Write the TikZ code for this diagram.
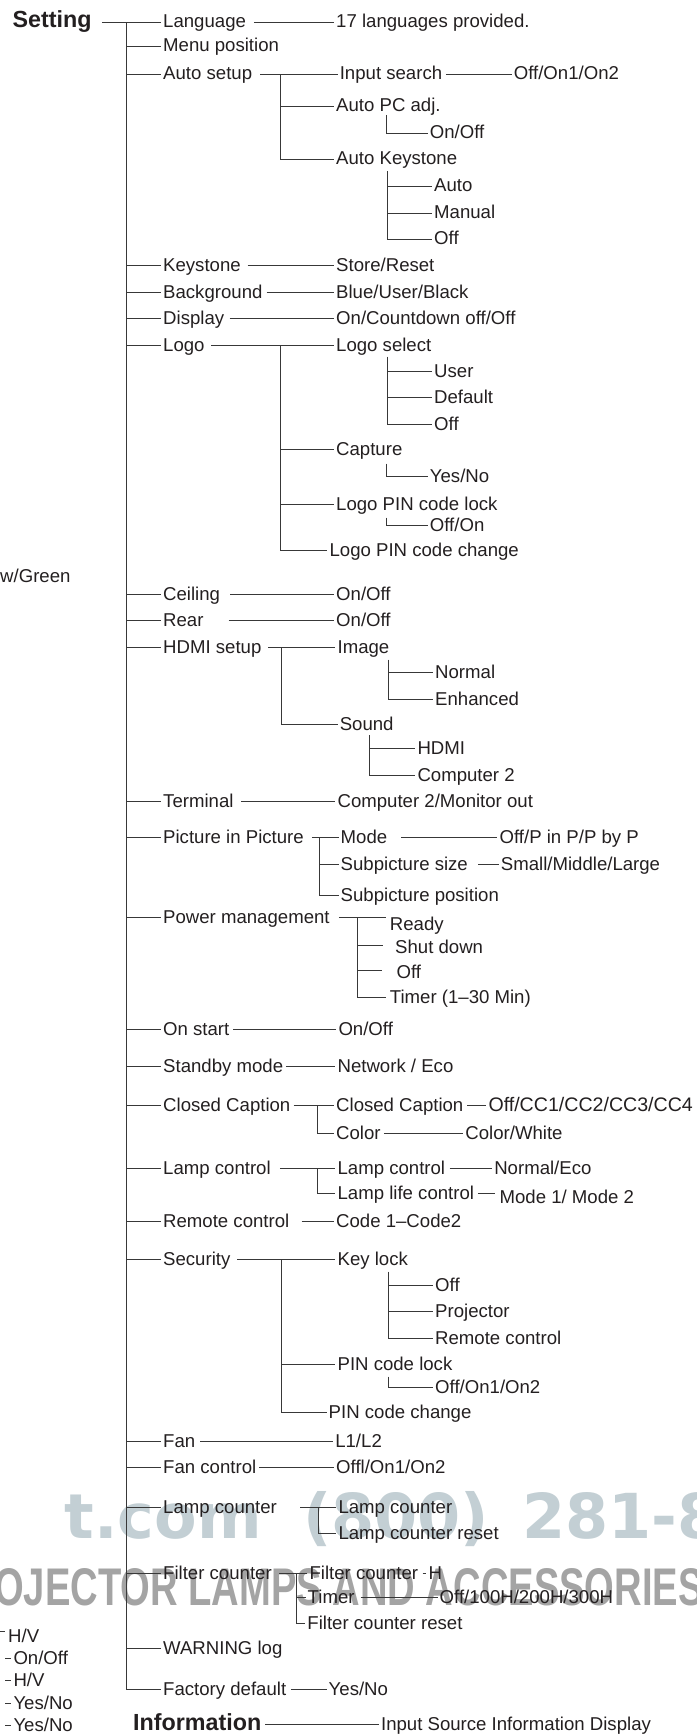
\documentclass[tikz,border=0pt]{standalone}
\usepackage{fontspec}
\setmainfont{Liberation Sans}
\newfontfamily\wmA{DejaVu Sans}
\newfontfamily\wmB[FakeStretch=0.72]{Liberation Sans}
\definecolor{ink}{HTML}{231F20}
\definecolor{linec}{HTML}{383838}
\definecolor{wma}{HTML}{C3CFD4}
\definecolor{wmb}{HTML}{A4A4A4}
\begin{document}
\begin{tikzpicture}[x=1pt,y=-1pt,
  t/.style={anchor=west,inner xsep=2pt,inner ysep=0pt,text height=11pt,text depth=0pt,
            font=\fontsize{18.6}{20}\selectfont,text=ink},
  b/.style={t,font=\fontsize{23.3}{24}\selectfont\bfseries},
  ln/.style={draw=linec,line width=1.15pt},
  wmt/.style={inner sep=0pt,anchor=base west}]
\useasboundingbox (0,0) rectangle (696,1736);
% watermark
\begin{scope}
\clip (0,0) rectangle (696,1736);
\node[wmt,anchor=base east,text=wma,font=\wmA\bfseries\fontsize{62}{62}\selectfont] (wm1) at (262,1538) {t.com};
\node[wmt,text=wma,font=\wmA\bfseries\fontsize{62}{62}\selectfont] (wm2) at (303,1538) {(800)};
\node[wmt,text=wma,font=\wmA\bfseries\fontsize{62}{62}\selectfont] (wm3) at (522,1538) {281-88};
\node[wmt,text=wmb,font=\wmB\bfseries\fontsize{53}{53}\selectfont] (wm4) at (-6,1605) {OJECTOR LAMPS AND ACCESSORIES};
\end{scope}
% level 1
\node[b] (set) at (10.4,22.5) {Setting};
\node[t] (lang) at (161,22.5) {Language};
\node[t] (menu) at (161,46.5) {Menu position};
\node[t] (autos) at (161,74.5) {Auto setup};
\node[t] (keys) at (161,265.5) {Keystone};
\node[t] (bg) at (161,292.5) {Background};
\node[t] (disp) at (161,318.5) {Display};
\node[t] (logo) at (161,345.5) {Logo};
\node[t] (ceil) at (161,594.5) {Ceiling};
\node[t] (rear) at (161,620.5) {Rear};
\node[t] (hdmi) at (161,647.5) {HDMI setup};
\node[t] (term) at (161,801.5) {Terminal};
\node[t] (pip) at (161,837.5) {Picture in Picture};
\node[t] (pm) at (161,917.5) {Power management};
\node[t] (onst) at (161,1029.5) {On start};
\node[t] (stby) at (161,1066.5) {Standby mode};
\node[t] (cc) at (161,1105.5) {Closed Caption};
\node[t] (lc) at (161,1168.5) {Lamp control};
\node[t] (rc) at (161,1221.5) {Remote control};
\node[t] (sec) at (161,1259.5) {Security};
\node[t] (fan) at (161,1441.5) {Fan};
\node[t] (fanc) at (161,1467.5) {Fan control};
\node[t] (lcnt) at (161,1507.5) {Lamp counter};
\node[t] (fcnt) at (161,1573.5) {Filter counter};
\node[t] (warn) at (161,1648.5) {WARNING log};
\node[t] (fd) at (161,1689.5) {Factory default};
\node[b] (info) at (131,1724.5) {Information};
% level 2 and 3
\node[t] (langv) at (334,22.5) {17 languages provided.};
\node[t] (inps) at (337.6,74.5) {Input search};
\node[t] (inpsv) at (511.6,74.5) {Off/On1/On2};
\node[t] (apc) at (334,106.5) {Auto PC adj.};
\node[t] (apcv) at (427.7,133.5) {On/Off};
\node[t] (aks) at (334,159.5) {Auto Keystone};
\node[t] (aka) at (432,186.5) {Auto};
\node[t] (akm) at (432,213.5) {Manual};
\node[t] (ako) at (432,239.5) {Off};
\node[t] (keysv) at (334,265.5) {Store/Reset};
\node[t] (bgv) at (334,292.5) {Blue/User/Black};
\node[t] (dispv) at (334,318.5) {On/Countdown off/Off};
\node[t] (lsel) at (334,345.5) {Logo select};
\node[t] (lsu) at (432,371.5) {User};
\node[t] (lsd) at (432,397.5) {Default};
\node[t] (lso) at (432,424.5) {Off};
\node[t] (cap) at (334,449.5) {Capture};
\node[t] (capv) at (427.7,476.5) {Yes/No};
\node[t] (lpl) at (334,504.5) {Logo PIN code lock};
\node[t] (lplv) at (427.7,525.5) {Off/On};
\node[t] (lpc) at (327.4,550.5) {Logo PIN code change};
\node[t] (ceilv) at (334,594.5) {On/Off};
\node[t] (rearv) at (334,620.5) {On/Off};
\node[t] (img) at (335.4,647.5) {Image};
\node[t] (imgn) at (433,672.5) {Normal};
\node[t] (imge) at (433,699.5) {Enhanced};
\node[t] (snd) at (337.6,724.5) {Sound};
\node[t] (sndh) at (415.3,748.5) {HDMI};
\node[t] (sndc) at (415.3,775.5) {Computer 2};
\node[t] (termv) at (335.4,801.5) {Computer 2/Monitor out};
\node[t] (mode) at (338.5,837.5) {Mode};
\node[t] (modev) at (497.4,837.5) {Off/P in P/P by P};
\node[t] (sps) at (338.5,864.5) {Subpicture size};
\node[t] (spsv) at (498.7,864.5) {Small/Middle/Large};
\node[t] (spp) at (338.5,895.5) {Subpicture position};
\node[t] (rdy) at (387.7,924.5) {Ready};
\node[t] (shd) at (393,948) {Shut down};
\node[t] (pmo) at (394.4,973) {Off};
\node[t] (tmr) at (387.7,997.5) {Timer (1–30 Min)};
\node[t] (onstv) at (336.3,1029.5) {On/Off};
\node[t] (stbyv) at (335.4,1066.5) {Network / Eco};
\node[t] (ccs) at (334,1105.5) {Closed Caption};
\node[t,font=\fontsize{19.6}{20}\selectfont] (ccsv) at (486.3,1105.5) {Off/CC1/CC2/CC3/CC4};
\node[t] (col) at (334,1133.5) {Color};
\node[t] (colv) at (463.2,1133.5) {Color/White};
\node[t] (lcs) at (335.4,1168.5) {Lamp control};
\node[t] (lcsv) at (492.1,1168.5) {Normal/Eco};
\node[t] (llc) at (335.4,1193.5) {Lamp life control};
\node[t] (llcv) at (497.4,1198) {Mode 1/ Mode 2};
\node[t] (rcv) at (334,1221.5) {Code 1–Code2};
\node[t] (kl) at (335.4,1259.5) {Key lock};
\node[t] (klo) at (433,1285.5) {Off};
\node[t] (klp) at (433,1311.5) {Projector};
\node[t] (klr) at (433,1338.5) {Remote control};
\node[t] (pcl) at (335.4,1364.5) {PIN code lock};
\node[t] (pclv) at (433,1387.5) {Off/On1/On2};
\node[t] (pcc) at (326.5,1412.5) {PIN code change};
\node[t] (fanv) at (333.1,1441.5) {L1/L2};
\node[t] (fancv) at (334,1467.5) {Offl/On1/On2};
\node[t] (lcn) at (336.3,1507.5) {Lamp counter};
\node[t] (lcr) at (336.3,1533.5) {Lamp counter reset};
\node[t] (fcn) at (307.4,1573.5) {Filter counter};
\node[t] (fcnv) at (426.4,1573.5) {H};
\node[t] (ftm) at (305.5,1597.5) {Timer};
\node[t] (ftmv) at (437.5,1597.5) {Off/100H/200H/300H};
\node[t] (fcr) at (305.2,1623.5) {Filter counter reset};
\node[t] (fdv) at (326.5,1689.5) {Yes/No};
\node[t] (infov) at (378.9,1724.5) {Input Source Information Display};
% left fragments
\node[t] (lf1) at (-2,577) {w/Green};
\node[t] (lf2) at (6,1636.5) {H/V};
\node[t] (lf3) at (11.3,1658.5) {On/Off};
\node[t] (lf4) at (11.3,1680.5) {H/V};
\node[t] (lf5) at (11.3,1703.5) {Yes/No};
\node[t] (lf6) at (11.3,1725.5) {Yes/No};
\coordinate (e2) at (0,1631.5);
\draw[ln] (e2) -- ++(5,0);
\foreach \n in {lf3,lf4,lf5,lf6} \draw[ln] ([xshift=-6pt]\n.west) -- (\n.west);
% main trunk
\coordinate (T) at (126.5,22.5);
\draw[ln] ([xshift=8pt]set.east) -- (lang.west);
\draw[ln] (T) -- (T |- fd.west) -- (fd.west);
\foreach \n in {menu,autos,keys,bg,disp,logo,ceil,rear,hdmi,term,pip,pm,onst,stby,cc,lc,rc,sec,fan,fanc,lcnt,fcnt,warn}
  \draw[ln] (T |- \n.west) -- (\n.west);
% value lines
\draw[ln] ([xshift=5.6pt]lang.east) -- (langv.west);
\draw[ln] ([xshift=6pt]autos.east) -- (inps.west);
\draw[ln] ([xshift=1.5pt]inps.east) -- (inpsv.west);
\draw[ln] ([xshift=4.7pt]keys.east) -- (keysv.west);
\draw[ln] ([xshift=2pt]bg.east) -- (bgv.west);
\draw[ln] ([xshift=3.3pt]disp.east) -- (dispv.west);
\draw[ln] ([xshift=4.7pt]logo.east) -- (lsel.west);
\draw[ln] ([xshift=7.8pt]ceil.east) -- (ceilv.west);
\draw[ln] ([xshift=23pt]rear.east) -- (rearv.west);
\draw[ln] ([xshift=4.7pt]hdmi.east) -- (img.west);
\draw[ln] ([xshift=5.5pt]term.east) -- (termv.west);
\draw[ln] ([xshift=6pt]pip.east) -- (mode.west);
\draw[ln] ([xshift=12pt]mode.east) -- (modev.west);
\draw[ln] ([xshift=8pt]sps.east) -- (spsv.west);
\draw[ln] ([xshift=7pt]pm.east) -- ([xshift=-2pt]rdy.west |- pm.east);
\draw[ln] ([xshift=1.6pt]onst.east) -- (onstv.west);
\draw[ln] ([xshift=0.5pt]stby.east) -- (stbyv.west);
\draw[ln] ([xshift=1pt]cc.east) -- (ccs.west);
\draw[ln] ([xshift=1.5pt]ccs.east) -- (ccsv.west);
\draw[ln] ([xshift=1pt]col.east) -- (colv.west);
\draw[ln] ([xshift=7pt]lc.east) -- (lcs.west);
\draw[ln] ([xshift=2.4pt]lcs.east) -- (lcsv.west);
\draw[ln] ([xshift=1.5pt]llc.east) -- ([xshift=-2.4pt]llcv.west |- llc.east);
\draw[ln] ([xshift=10pt]rc.east) -- (rcv.west);
\draw[ln] ([xshift=4.7pt]sec.east) -- (kl.west);
\draw[ln] ([xshift=3pt]fan.east) -- (fanv.west);
\draw[ln] ([xshift=1pt]fanc.east) -- (fancv.west);
\draw[ln] ([xshift=21pt]lcnt.east) -- (lcn.west);
\draw[ln] ([xshift=5.5pt]fcnt.east) -- (fcn.west);
\draw[ln] ([xshift=2.4pt]fcn.east) -- (fcnv.west);
\draw[ln] ([xshift=4pt]ftm.east) -- (ftmv.west);
\draw[ln] ([xshift=2.5pt]fd.east) -- (fdv.west);
\draw[ln] ([xshift=1.5pt]info.east) -- (infov.west);
% sub trunks
\coordinate (S1) at (280.5,74.5);
\draw[ln] (S1) -- (S1 |- aks.west) -- (aks.west);
\draw[ln] (S1 |- apc.west) -- (apc.west);
\coordinate (S2) at (386.5,115);
\draw[ln] (S2) -- (S2 |- apcv.west) -- (apcv.west);
\coordinate (S3) at (387.5,171.5);
\draw[ln] (S3) -- (S3 |- ako.west) -- (ako.west);
\foreach \n in {aka,akm} \draw[ln] (S3 |- \n.west) -- (\n.west);
\coordinate (S4) at (280.5,345.5);
\draw[ln] (S4) -- (S4 |- lpc.west) -- (lpc.west);
\foreach \n in {cap,lpl} \draw[ln] (S4 |- \n.west) -- (\n.west);
\coordinate (S5) at (387.5,356.5);
\draw[ln] (S5) -- (S5 |- lso.west) -- (lso.west);
\foreach \n in {lsu,lsd} \draw[ln] (S5 |- \n.west) -- (\n.west);
\coordinate (S6) at (386.5,463.5);
\draw[ln] (S6) -- (S6 |- capv.west) -- (capv.west);
\coordinate (S7) at (386.5,517.5);
\draw[ln] (S7) -- (S7 |- lplv.west) -- (lplv.west);
\coordinate (S8) at (281.5,647.5);
\draw[ln] (S8) -- (S8 |- snd.west) -- (snd.west);
\coordinate (S9) at (388.5,659.5);
\draw[ln] (S9) -- (S9 |- imge.west) -- (imge.west);
\draw[ln] (S9 |- imgn.west) -- (imgn.west);
\coordinate (S10) at (369.5,735);
\draw[ln] (S10) -- (S10 |- sndc.west) -- (sndc.west);
\draw[ln] (S10 |- sndh.west) -- (sndh.west);
\coordinate (S11) at (319.5,837.5);
\draw[ln] (S11) -- (S11 |- spp.west) -- (spp.west);
\draw[ln] (S11 |- sps.west) -- (sps.west);
\coordinate (S12) at (357.5,917.5);
\draw[ln] (S12) -- (S12 |- tmr.west) -- ([xshift=-2pt]tmr.west);
\draw[ln] ([yshift=2.5pt]S12 |- shd.west) -- ([yshift=2.5pt,xshift=-10pt]shd.west);
\draw[ln] ([yshift=2.5pt]S12 |- pmo.west) -- ([yshift=2.5pt,xshift=-12pt]pmo.west);
\coordinate (S13) at (317.5,1105.5);
\draw[ln] (S13) -- (S13 |- col.west) -- (col.west);
\coordinate (S14) at (317.5,1168.5);
\draw[ln] (S14) -- (S14 |- llc.west) -- (llc.west);
\coordinate (S15) at (281.5,1259.5);
\draw[ln] (S15) -- (S15 |- pcc.west) -- (pcc.west);
\draw[ln] (S15 |- pcl.west) -- (pcl.west);
\coordinate (S16) at (388.5,1271.5);
\draw[ln] (S16) -- (S16 |- klr.west) -- (klr.west);
\foreach \n in {klo,klp} \draw[ln] (S16 |- \n.west) -- (\n.west);
\coordinate (S17) at (388.5,1376.5);
\draw[ln] (S17) -- (S17 |- pclv.west) -- (pclv.west);
\coordinate (S18) at (318.5,1507.5);
\draw[ln] (S18) -- (S18 |- lcr.west) -- (lcr.west);
\coordinate (S19) at (296.5,1573.5);
\draw[ln] (S19) -- (S19 |- fcr.west) -- (fcr.west);
\draw[ln] (S19 |- ftm.west) -- (ftm.west);
\end{tikzpicture}
\end{document}
